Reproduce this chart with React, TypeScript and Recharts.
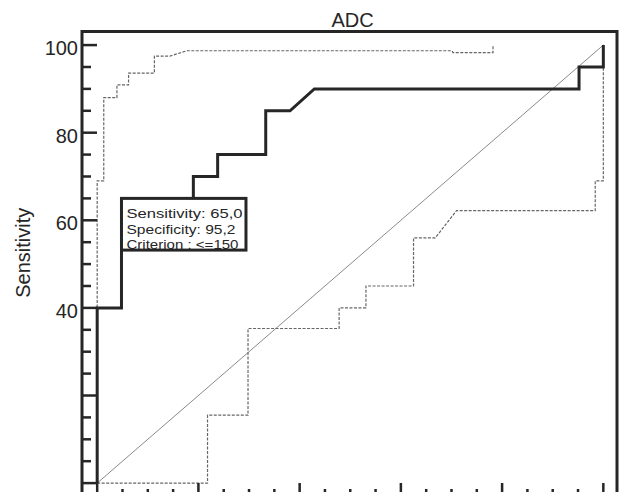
import React from 'react';
import { LineChart, Line, XAxis, YAxis, ReferenceArea, ReferenceDot, Label } from 'recharts';

const FONT = '"Liberation Sans", Arial, Helvetica, sans-serif';
const INK = '#262626';

// ROC curve (x = 100 - Specificity, y = Sensitivity)
const rocX = [0, 0, 4.8, 4.8, 19.0, 19.0, 23.8, 23.8, 33.3, 33.3, 38.1, 42.9, 95.2, 95.2, 100, 100];
const rocY = [0, 40, 40, 65, 65, 70, 70, 75, 75, 85, 85, 90, 90, 95, 95, 100];

// upper confidence bound
const upX = [0, 0, 1.3, 1.3, 3.9, 3.9, 6.2, 6.2, 11.3, 11.3, 14.4, 17.7, 70.1, 70.3, 78.2, 78.2];
const upY = [0, 69, 69, 88, 88, 90.9, 90.9, 93.6, 93.6, 97.5, 97.5, 98.7, 98.7, 98.3, 98.3, 100];

// lower confidence bound
const loX = [0, 21.8, 21.8, 29.8, 29.8, 47.8, 47.8, 53.1, 53.1, 62.5, 62.5, 66.8, 71.0, 98.4, 98.4, 100, 100];
const loY = [0, 0, 15.5, 15.5, 35.3, 35.3, 40, 40, 45, 45, 56, 56, 62.2, 62.2, 69, 69, 95];

// reference diagonal
const diagX = [0, 100];
const diagY = [0, 100];

const ticks5 = [0, 5, 10, 15, 20, 25, 30, 35, 40, 45, 50, 55, 60, 65, 70, 75, 80, 85, 90, 95, 100];
const labeledY = [40, 60, 80, 100];

const criterionSens = 65.0;
const criterionSpec = 95.2;
const criterionText = 'Criterion : <=150';
const title = 'ADC';
const yTitle = 'Sensitivity';

const toPts = (xs: number[], ys: number[]) => xs.map((x, i) => ({ x, y: ys[i] }));
const rocData = toPts(rocX, rocY);
const upData = toPts(upX, upY);
const loData = toPts(loX, loY);
const diagData = toPts(diagX, diagY);

const fmt = (v: number) => v.toFixed(1).replace('.', ',');

const YTick = (props: any) => {
  const { x, y, payload } = props;
  const v = payload.value;
  const major = v % 20 === 0;
  const len = major ? 15 : 9;
  return (
    <g>
      <line x1={x} x2={x + len} y1={y} y2={y} stroke={INK} strokeWidth={2.5} />
      {major && labeledY.includes(v) && (
        <text x={x - 4} y={y + 10} textAnchor="end" fontSize={20} fontFamily={FONT} fill={INK}>
          {v}
        </text>
      )}
    </g>
  );
};

const XTick = (props: any) => {
  const { x, y, payload } = props;
  const v = payload.value;
  const major = v % 20 === 0;
  const len = major ? 15 : 9;
  return <line x1={x} x2={x} y1={y} y2={y - len} stroke={INK} strokeWidth={2.5} />;
};

const CriterionBox = (props: any) => {
  const { cx, cy } = props;
  const w = 124.5;
  const h = 51.7;
  return (
    <g>
      <rect x={cx} y={cy} width={w} height={h} fill="#fff" stroke={INK} strokeWidth={3} />
      <g fontSize={13.5} fontFamily={FONT} fill={INK}>
        <text x={cx + 5} y={cy + 20} textLength={116} lengthAdjust="spacingAndGlyphs">{`Sensitivity: ${fmt(criterionSens)}`}</text>
        <text x={cx + 5} y={cy + 35.5} textLength={109} lengthAdjust="spacingAndGlyphs">{`Specificity: ${fmt(criterionSpec)}`}</text>
        <text x={cx + 5} y={cy + 51} textLength={112} lengthAdjust="spacingAndGlyphs">{criterionText}</text>
      </g>
    </g>
  );
};

export default function App() {
  return (
    <div style={{ position: 'absolute', left: 0, top: 0, background: '#fff' }}>
      <LineChart width={624} height={492} margin={{ top: 31.5, right: 7, bottom: -26, left: 22 }}>
        <XAxis
          type="number"
          dataKey="x"
          domain={[-3, 102.7]}
          ticks={ticks5}
          interval={0}
          allowDataOverflow
          height={20}
          tickSize={0}
          tickMargin={0}
          tickLine={false}
          axisLine={false}
          tick={<XTick />}
        />
        <YAxis
          type="number"
          dataKey="y"
          domain={[-3.4, 103.1]}
          ticks={ticks5}
          interval={0}
          allowDataOverflow
          width={60}
          tickSize={0}
          tickMargin={0}
          tickLine={false}
          axisLine={false}
          tick={<YTick />}
        >
          <Label
            content={(p: any) => {
              const vb = p.viewBox || {};
              const cx = (vb.x ?? 22) + 1;
              const cy = (vb.y ?? 31.5) + (vb.height ?? 466) / 2 - 12;
              return (
                <text
                  x={cx}
                  y={cy}
                  transform={`rotate(-90 ${cx} ${cy})`}
                  textAnchor="middle"
                  dominantBaseline="central"
                  fontSize={20}
                  fontFamily={FONT}
                  fill={INK}
                >
                  {yTitle}
                </text>
              );
            }}
          />
        </YAxis>
        <Line
          data={diagData}
          dataKey="y"
          type="linear"
          stroke="#8a8a8a"
          strokeWidth={1}
          dot={false}
          activeDot={false}
          isAnimationActive={false}
        />
        <Line
          data={upData}
          dataKey="y"
          type="linear"
          stroke="#666"
          strokeWidth={1.2}
          strokeDasharray="3 1.5"
          dot={false}
          activeDot={false}
          isAnimationActive={false}
        />
        <Line
          data={loData}
          dataKey="y"
          type="linear"
          stroke="#666"
          strokeWidth={1.2}
          strokeDasharray="3 1.5"
          dot={false}
          activeDot={false}
          isAnimationActive={false}
        />
        <Line
          data={rocData}
          dataKey="y"
          type="linear"
          stroke={INK}
          strokeWidth={3}
          dot={false}
          activeDot={false}
          isAnimationActive={false}
        />
        <ReferenceDot
          x={100 - criterionSpec}
          y={criterionSens}
          ifOverflow="visible"
          shape={<CriterionBox />}
        />
        <ReferenceArea
          x1={-3}
          x2={102.7}
          y1={-3.4}
          y2={103.1}
          fill="none"
          fillOpacity={0}
          stroke={INK}
          strokeWidth={3}
          ifOverflow="visible"
        >
          <Label
            content={(p: any) => {
              const vb = p.viewBox || {};
              return (
                <text
                  x={(vb.x ?? 82) + (vb.width ?? 535) / 2 + 3}
                  y={(vb.y ?? 31.5) - 5}
                  textAnchor="middle"
                  fontSize={20}
                  fontFamily={FONT}
                  fill={INK}
                >
                  {title}
                </text>
              );
            }}
          />
        </ReferenceArea>
      </LineChart>
    </div>
  );
}
